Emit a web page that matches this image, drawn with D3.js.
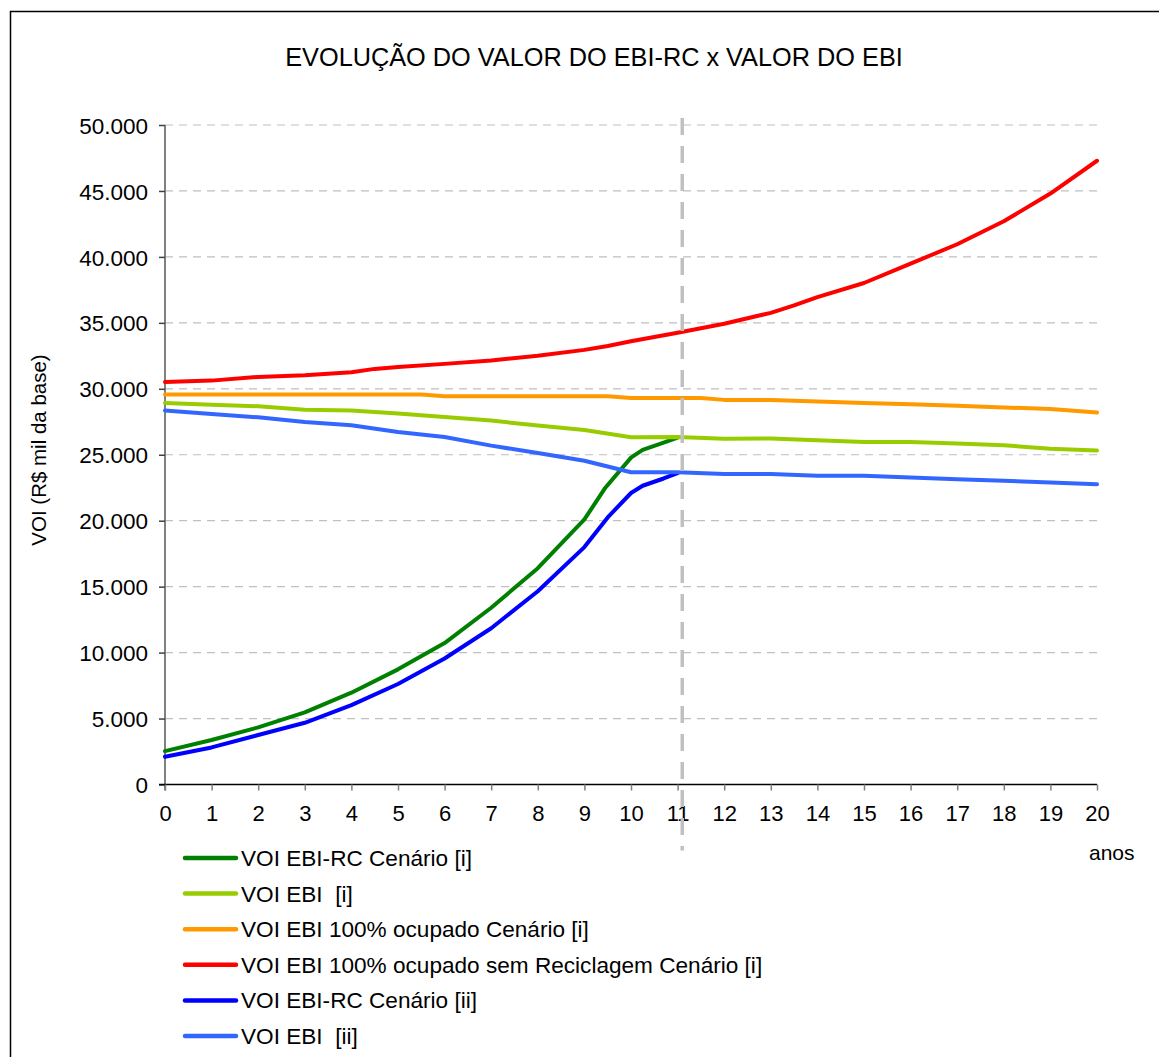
<!DOCTYPE html>
<html>
<head>
<meta charset="utf-8">
<script src="https://cdn.jsdelivr.net/npm/d3@7"></script>
<style>
  html, body { margin: 0; padding: 0; background: #fff; }
  svg { display: block; font-family: "Liberation Sans", Arial, sans-serif; }
</style>
</head>
<body>
<svg id="chart" width="1159" height="1057"></svg>
<script>
// ---- data -------------------------------------------------------------
const chartTitle = "EVOLUÇÃO DO VALOR DO EBI-RC x VALOR DO EBI";
const yAxisTitle = "VOI (R$ mil da base)";
const xAxisTitle = "anos";
const yTicks = [0, 5000, 10000, 15000, 20000, 25000, 30000, 35000, 40000, 45000, 50000];
const xTicks = d3.range(0, 21);
const markerYear = 11.1;

const seriesNames = [
  "VOI EBI-RC Cenário [i]",
  "VOI EBI  [i]",
  "VOI EBI 100% ocupado Cenário [i]",
  "VOI EBI 100% ocupado sem Reciclagem Cenário [i]",
  "VOI EBI-RC Cenário [ii]",
  "VOI EBI  [ii]"
];
const seriesColors = ["#008000", "#99cc00", "#ff9900", "#ff0000", "#0000ff", "#3366ff"];

const ebiRcIYears  = [0, 1, 2, 3, 4, 5, 6, 7, 8, 9, 9.45, 10, 10.25, 10.7, 11];
const ebiRcIValues = [2530, 3370, 4330, 5470, 6960, 8730, 10720, 13400, 16400, 20100, 22500, 24780, 25370, 25920, 26300];

const ebiIYears  = d3.range(0, 21);
const ebiIValues = [28930, 28800, 28680, 28420, 28350, 28120, 27870, 27590, 27210, 26880, 26330,
                    26340, 26210, 26230, 26100, 25970, 25970, 25850, 25720, 25460, 25330];

const ocupIYears  = [0, 1, 2, 3, 4, 5, 5.5, 6, 7, 8, 9, 9.5, 10, 11, 11.5, 12, 13, 14, 15, 16, 17, 18, 19, 20];
const ocupIValues = [29560, 29560, 29560, 29560, 29560, 29560, 29560, 29440, 29440, 29440, 29440, 29440,
                     29300, 29300, 29300, 29160, 29150, 29030, 28920, 28820, 28720, 28590, 28460, 28200];

const semRecYears  = [0, 1, 2, 3, 4, 4.5, 5, 6, 7, 8, 9, 9.5, 10, 11, 12, 13, 13.5, 14, 15, 16, 17, 18, 19, 20];
const semRecValues = [30520, 30620, 30900, 31030, 31260, 31510, 31660, 31890, 32150, 32500, 32950, 33250,
                      33610, 34250, 34930, 35760, 36320, 36950, 38020, 39490, 40960, 42700, 44800, 47290];

const ebiRcIIYears  = [0, 1, 2, 3, 4, 5, 6, 7, 8, 9, 9.5, 10, 10.25, 10.7, 11];
const ebiRcIIValues = [2100, 2810, 3750, 4680, 6020, 7620, 9550, 11850, 14650, 18000, 20250, 22100, 22650, 23200, 23600];

const ebiIIYears  = d3.range(0, 21);
const ebiIIValues = [28350, 28090, 27840, 27490, 27230, 26730, 26350, 25690, 25130, 24550, 23670,
                     23670, 23540, 23540, 23410, 23410, 23280, 23150, 23030, 22900, 22770];

const seriesYears  = [ebiRcIYears, ebiIYears, ocupIYears, semRecYears, ebiRcIIYears, ebiIIYears];
const seriesValues = [ebiRcIValues, ebiIValues, ocupIValues, semRecValues, ebiRcIIValues, ebiIIValues];

// ---- layout -----------------------------------------------------------
const svg = d3.select("#chart");
const plot = { left: 165, right: 1097, top: 125, bottom: 784.5 };

const x = d3.scaleLinear().domain([0, 20]).range([plot.left, plot.right]);
const y = d3.scaleLinear().domain([0, 50000]).range([plot.bottom, plot.top]);
const fmt = v => d3.format(",")(v).replace(/,/g, ".");
const FONT = "'Liberation Sans', Arial, sans-serif";

// outer frame
svg.append("rect")
  .attr("x", 10.5).attr("y", 11.5)
  .attr("width", 1300).attr("height", 1200)
  .attr("fill", "none").attr("stroke", "#000").attr("stroke-width", 1.5);

// title
svg.append("text")
  .attr("x", 594).attr("y", 66)
  .attr("text-anchor", "middle")
  .attr("font-size", 25.3).attr("fill", "#000")
  .text(chartTitle);

// horizontal grid
svg.append("g")
  .selectAll("line")
  .data(yTicks.filter(d => d > 0))
  .join("line")
  .attr("x1", plot.left).attr("x2", plot.right)
  .attr("y1", d => y(d)).attr("y2", d => y(d))
  .attr("stroke", "#c0c0c0").attr("stroke-width", 1.2)
  .attr("stroke-dasharray", "8,6");

// y axis
const yAxis = svg.append("g")
  .attr("transform", `translate(${plot.left},0)`)
  .call(d3.axisLeft(y).tickValues(yTicks).tickFormat(fmt).tickSize(6).tickPadding(11));
yAxis.select(".domain").attr("stroke", "#808080").attr("stroke-width", 2)
  .attr("d", `M0,${plot.top}V${plot.bottom + 6}`);
yAxis.selectAll(".tick line").attr("stroke", "#404040").attr("stroke-width", 1.5);
yAxis.selectAll(".tick text")
  .attr("font-size", 22.5).attr("fill", "#000")
  .attr("font-family", FONT)
  .attr("dy", "0.36em");

// x axis
const xAxis = svg.append("g")
  .attr("transform", `translate(0,${plot.bottom})`)
  .call(d3.axisBottom(x).tickValues(xTicks).tickFormat(d3.format("d")).tickSize(6).tickPadding(15));
xAxis.select(".domain").attr("stroke", "#000").attr("stroke-width", 1.5)
  .attr("d", `M${plot.left - 6},0H${plot.right}`);
xAxis.selectAll(".tick line").attr("stroke", "#808080").attr("stroke-width", 1.5);
xAxis.selectAll(".tick text")
  .attr("font-size", 22).attr("fill", "#000")
  .attr("font-family", FONT);

// y axis title
svg.append("text")
  .attr("transform", "translate(46,450) rotate(-90)")
  .attr("text-anchor", "middle")
  .attr("font-size", 20.5).attr("fill", "#000")
  .text(yAxisTitle);

// x axis title
svg.append("text")
  .attr("x", 1089).attr("y", 860)
  .attr("font-size", 21).attr("fill", "#000")
  .text(xAxisTitle);

// series lines
const line = d3.line().x(d => x(d[0])).y(d => y(d[1]));
const linesG = svg.append("g");
seriesNames.forEach((name, i) => {
  const pts = seriesYears[i].map((yr, j) => [yr, seriesValues[i][j]]);
  linesG.append("path")
    .datum(pts)
    .attr("d", line)
    .attr("fill", "none")
    .attr("stroke", seriesColors[i])
    .attr("stroke-width", 4)
    .attr("stroke-linejoin", "round")
    .attr("stroke-linecap", "round");
});

// vertical marker
svg.append("line")
  .attr("x1", x(markerYear)).attr("x2", x(markerYear))
  .attr("y1", plot.top - 7).attr("y2", plot.bottom + 66)
  .attr("stroke", "#c0c0c0").attr("stroke-width", 3.5)
  .attr("stroke-dasharray", "17,11");

// legend
const legend = svg.append("g").attr("transform", "translate(185,858)");
const rowH = 35.6;
seriesNames.forEach((name, i) => {
  const g = legend.append("g").attr("transform", `translate(0,${i * rowH})`);
  g.append("line")
    .attr("x1", 0).attr("x2", 51).attr("y1", 0).attr("y2", 0)
    .attr("stroke", seriesColors[i]).attr("stroke-width", 4.5)
    .attr("stroke-linecap", "round");
  g.append("text")
    .attr("x", 56).attr("y", 8)
    .attr("font-size", 22.6).attr("fill", "#000")
    .style("white-space", "pre")
    .text(name);
});
</script>
</body>
</html>
